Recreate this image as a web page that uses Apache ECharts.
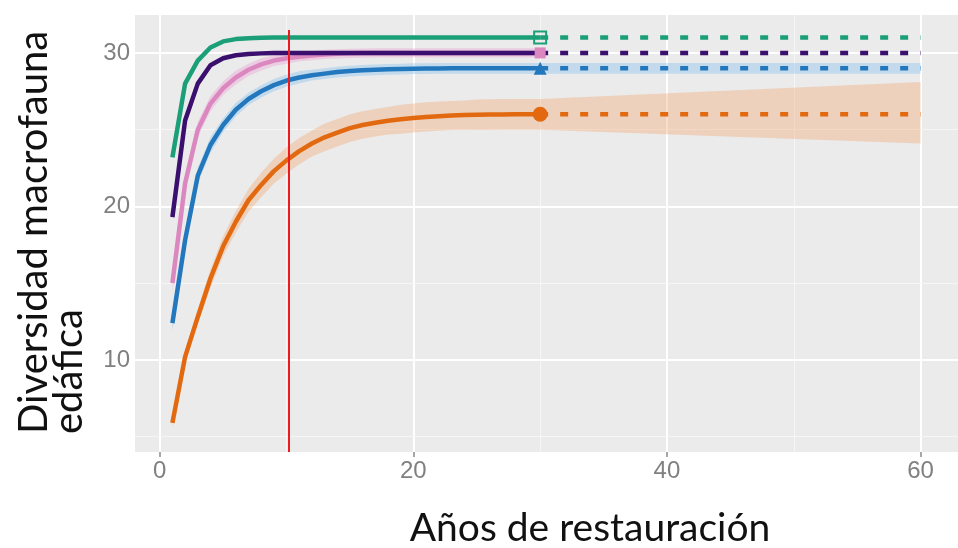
<!DOCTYPE html>
<html>
<head>
<meta charset="utf-8">
<style>
  html, body { margin: 0; padding: 0; background: #ffffff; }
  #chart { width: 958px; height: 548px; }
</style>
<script src="https://cdn.jsdelivr.net/npm/echarts@6/dist/echarts.min.js"></script>
</head>
<body>
<div id="chart"></div>
<script>
// Years of restoration covered by the fitted curves
const years = [1, 2, 3, 4, 5, 6, 7, 8, 9, 10, 11, 12, 13, 14, 15, 16, 17, 18, 19, 20, 21, 22, 23, 24, 25, 26, 27, 28, 29, 30];

// Fitted diversity per restoration type
const greenFit  = [23.2, 28.0, 29.5, 30.35, 30.75, 30.9, 30.96, 30.99, 31, 31, 31, 31, 31, 31, 31, 31, 31, 31, 31, 31, 31, 31, 31, 31, 31, 31, 31, 31, 31, 31];
const purpleFit = [19.3, 25.6, 28.0, 29.2, 29.65, 29.85, 29.93, 29.97, 30, 30, 30, 30, 30, 30, 30, 30, 30, 30, 30, 30, 30, 30, 30, 30, 30, 30, 30, 30, 30, 30];
const pinkFit   = [15.0, 21.5, 25.0, 26.7, 27.7, 28.4, 28.9, 29.25, 29.5, 29.65, 29.75, 29.83, 29.9, 29.94, 29.97, 29.99, 30, 30, 30, 30, 30, 30, 30, 30, 30, 30, 30, 30, 30, 30];
const blueFit   = [12.4, 17.8, 22.0, 24.0, 25.3, 26.3, 27.0, 27.5, 27.9, 28.2, 28.4, 28.55, 28.65, 28.75, 28.82, 28.87, 28.9, 28.93, 28.95, 28.97, 28.98, 28.99, 29, 29, 29, 29, 29, 29, 29, 29];
const orangeFit = [5.9, 10.2, 12.8, 15.3, 17.4, 19.0, 20.4, 21.4, 22.3, 23.0, 23.6, 24.1, 24.5, 24.8, 25.1, 25.3, 25.45, 25.58, 25.68, 25.76, 25.83, 25.88, 25.92, 25.95, 25.97, 25.98, 25.99, 26, 26, 26];

// Confidence half-widths around the fits
const orangeHalf = [0.3, 0.4, 0.5, 0.6, 0.65, 0.7, 0.75, 0.8, 0.8, 0.85, 0.85, 0.85, 0.9, 0.9, 0.9, 0.9, 0.9, 0.9, 0.95, 0.95, 0.95, 0.95, 0.95, 0.95, 1, 1, 1, 1, 1, 1];
const blueHalf   = [0.5, 0.5, 0.5, 0.5, 0.45, 0.45, 0.4, 0.4, 0.4, 0.4, 0.4, 0.35, 0.35, 0.35, 0.35, 0.35, 0.35, 0.35, 0.35, 0.35, 0.35, 0.35, 0.35, 0.35, 0.35, 0.35, 0.35, 0.35, 0.35, 0.35];
const pinkHalf   = [0.5, 0.5, 0.5, 0.5, 0.45, 0.45, 0.4, 0.4, 0.35, 0.35, 0.3, 0.3, 0.3, 0.3, 0.3, 0.3, 0.3, 0.3, 0.3, 0.3, 0.3, 0.3, 0.3, 0.3, 0.3, 0.3, 0.3, 0.3, 0.3, 0.3];

// Projection beyond year 30
const projYears   = [30, 60];
const greenProj   = [31, 31];
const purpleProj  = [30, 30];
const blueProj    = [29, 29];
const orangeProj  = [26, 26];
const blueProjLow = [28.65, 28.65];
const blueProjHigh = [29.35, 29.35];
const orangeProjLow  = [25.0, 24.1];
const orangeProjHigh = [27.0, 28.1];

// Axis ticks and grid lines
const xTicks = [0, 20, 40, 60];
const xMinor = [10, 30, 50];
const yTicks = [10, 20, 30];
const yMinor = [5, 15, 25];
const markYear = 10.2;
const markTop = 31.5;

const COL = {
  green: '#1a9f78',
  purple: '#3b0f6e',
  pink: '#dc88c0',
  blue: '#2378bd',
  orange: '#e2690f',
  red: '#ec1b1f'
};

const LINE_W = 4.5;

const pairs = (xs, ys) => xs.map((x, i) => [x, ys[i]]);

function bandSeries(xs, low, high, fill, z) {
  return {
    type: 'custom',
    z: z,
    silent: true,
    animation: false,
    data: [0],
    renderItem: function (params, api) {
      const pts = [];
      for (let i = 0; i < xs.length; i++) pts.push(api.coord([xs[i], high[i]]));
      for (let i = xs.length - 1; i >= 0; i--) pts.push(api.coord([xs[i], low[i]]));
      return {
        type: 'polygon',
        shape: { points: pts },
        style: { fill: fill, stroke: null }
      };
    }
  };
}

function fitLine(ys, color, z) {
  return {
    type: 'line', z: z, data: pairs(years, ys), symbol: 'none',
    lineStyle: { color: color, width: LINE_W }, silent: true, animation: false
  };
}

function projLine(ys, color, z) {
  return {
    type: 'line', z: z, data: pairs(projYears, ys), symbol: 'none',
    lineStyle: { color: color, width: LINE_W, type: [8, 12], cap: 'butt' }, silent: true, animation: false
  };
}

function marker(y, symbol, size, color, filled, z) {
  return {
    type: 'scatter', z: z, data: [[30, y]], symbol: symbol, symbolSize: size, silent: true, animation: false,
    itemStyle: filled
      ? { color: color, opacity: 1 }
      : { color: 'rgba(0,0,0,0)', borderColor: color, borderWidth: 2, opacity: 1 }
  };
}

const tickFont = '"Liberation Sans Narrow", "Liberation Sans", sans-serif';
const titleFont = 'Lato, "Open Sans", sans-serif';

const gridLines = [];
xTicks.forEach(v => gridLines.push({ xAxis: v, lineStyle: { color: '#ffffff', width: 2, type: 'solid' } }));
xMinor.forEach(v => gridLines.push({ xAxis: v, lineStyle: { color: '#f6f6f6', width: 1, type: 'solid' } }));
yTicks.forEach(v => gridLines.push({ yAxis: v, lineStyle: { color: '#ffffff', width: 2, type: 'solid' } }));
yMinor.forEach(v => gridLines.push({ yAxis: v, lineStyle: { color: '#f6f6f6', width: 1, type: 'solid' } }));

const orangeLow = orangeFit.map((v, i) => v - orangeHalf[i]);
const orangeHigh = orangeFit.map((v, i) => v + orangeHalf[i]);
const blueLow = blueFit.map((v, i) => v - blueHalf[i]);
const blueHigh = blueFit.map((v, i) => v + blueHalf[i]);
const pinkLow = pinkFit.map((v, i) => v - pinkHalf[i]);
const pinkHigh = pinkFit.map((v, i) => v + pinkHalf[i]);

const chart = echarts.init(document.getElementById('chart'), null, { renderer: 'canvas' });

chart.setOption({
  animation: false,
  backgroundColor: '#ffffff',
  grid: {
    left: 135, top: 15, width: 828, height: 437,
    show: true, backgroundColor: '#ebebeb', borderWidth: 0
  },
  xAxis: {
    type: 'value', min: -1.95, max: 62.95,
    axisLine: { show: false },
    splitLine: { show: false },
    axisTick: { show: true, customValues: xTicks, length: 5, lineStyle: { color: '#8a8a8a', width: 1.5 } },
    axisLabel: { customValues: xTicks, margin: 7, color: '#808080', fontSize: 24, fontFamily: tickFont }
  },
  yAxis: {
    type: 'value', min: 4.0, max: 32.47,
    axisLine: { show: false },
    splitLine: { show: false },
    axisTick: { show: true, customValues: yTicks, length: 5, lineStyle: { color: '#8a8a8a', width: 1.5 } },
    axisLabel: { customValues: yTicks, margin: 5, color: '#808080', fontSize: 24, fontFamily: tickFont }
  },
  graphic: [
    {
      type: 'text', x: 17, y: 434, rotation: Math.PI / 2, silent: true,
      style: {
        text: 'Diversidad macrofauna\nedáfica',
        font: '40px ' + titleFont, fill: '#111111',
        textAlign: 'left', textVerticalAlign: 'top', lineHeight: 35
      }
    },
    {
      type: 'text', x: 590, y: 528, silent: true,
      style: {
        text: 'Años de restauración',
        font: '39px ' + titleFont, fill: '#111111',
        textAlign: 'center', textVerticalAlign: 'middle'
      }
    }
  ],
  series: [
    {
      type: 'line', data: [], z: 1, silent: true,
      markLine: { z: 1, silent: true, symbol: ['none', 'none'], label: { show: false }, animation: false, data: gridLines }
    },
    bandSeries(years, orangeLow, orangeHigh, 'rgba(242,160,100,0.35)', 2),
    bandSeries(projYears, orangeProjLow, orangeProjHigh, 'rgba(242,160,100,0.35)', 2),
    bandSeries(years, blueLow, blueHigh, 'rgba(120,185,240,0.35)', 2),
    bandSeries(projYears, blueProjLow, blueProjHigh, 'rgba(120,185,240,0.35)', 2),
    bandSeries(years, pinkLow, pinkHigh, 'rgba(235,150,210,0.35)', 2),
    fitLine(orangeFit, COL.orange, 3),
    fitLine(blueFit, COL.blue, 3),
    fitLine(pinkFit, COL.pink, 3),
    fitLine(purpleFit, COL.purple, 4),
    fitLine(greenFit, COL.green, 4),
    projLine(orangeProj, COL.orange, 3),
    projLine(blueProj, COL.blue, 3),
    projLine(purpleProj, COL.purple, 4),
    projLine(greenProj, COL.green, 4),
    marker(26, 'circle', 15, COL.orange, true, 6),
    marker(29, 'triangle', 13, COL.blue, true, 6),
    marker(30, 'rect', 11, COL.pink, true, 6),
    marker(31, 'rect', 12, COL.green, false, 6),
    {
      type: 'line', data: [], z: 7, silent: true,
      markLine: {
        z: 7, silent: true, symbol: ['none', 'none'], label: { show: false }, animation: false,
        lineStyle: { color: COL.red, width: 2, type: 'solid' },
        data: [[{ coord: [markYear, 4.0] }, { coord: [markYear, markTop] }]]
      }
    }
  ]
});
</script>
</body>
</html>
